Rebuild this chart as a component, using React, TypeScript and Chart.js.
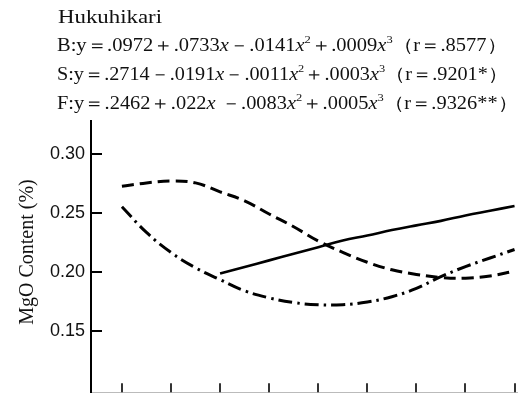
import React, { useEffect, useRef } from "react";
import { Chart, registerables } from "chart.js";

Chart.register(...registerables);

// ---- data ----
const xTicks = [1, 2, 3, 4, 5, 6, 7, 8, 9];
const yTicks = [0.15, 0.2, 0.25, 0.3];

const sX = [1, 1.5, 2, 2.5, 3, 3.5, 4, 4.5, 5, 5.5, 6, 6.5, 7, 7.5, 8, 8.5, 9];
const sValues = [0.2727, 0.2755, 0.2771, 0.2755, 0.2679, 0.2603, 0.2491, 0.2383, 0.2262, 0.2166, 0.2082, 0.2018, 0.1979, 0.1953, 0.1947, 0.1966, 0.2006];

const bX = [3, 3.5, 4, 4.5, 5, 5.5, 6, 6.5, 7, 7.5, 8, 8.5, 9];
const bValues = [0.1987, 0.2042, 0.2098, 0.2154, 0.221, 0.2267, 0.2309, 0.2355, 0.2395, 0.2433, 0.2479, 0.2519, 0.2559];

const fX = [1, 1.5, 2, 2.5, 3, 3.5, 4, 4.5, 5, 5.5, 6, 6.5, 7, 7.5, 8, 8.5, 9];
const fValues = [0.2553, 0.2335, 0.2165, 0.2035, 0.1935, 0.184, 0.178, 0.174, 0.1722, 0.1722, 0.1745, 0.179, 0.186, 0.196, 0.2045, 0.2118, 0.219];

const titleText = "Hukuhikari";
const equationLines = [
  "B:y＝.0972＋.0733x－.0141x²＋.0009x³（r＝.8577）",
  "S:y＝.2714－.0191x－.0011x²＋.0003x³（r＝.9201*）",
  "F:y＝.2462＋.022x －.0083x²＋.0005x³（r＝.9326**）",
];
const yAxisLabel = "MgO Content (%)";

const SERIF = '"Liberation Serif", "DejaVu Serif", serif';

type Seg = { t: string; kind: "n" | "i" | "s"; w?: number };

function parseRich(str: string): Seg[] {
  const segs: Seg[] = [];
  for (const ch of Array.from(str)) {
    let kind: Seg["kind"] = "n";
    let t = ch;
    if (ch === "x") kind = "i";
    else if (ch === "²") { kind = "s"; t = "2"; }
    else if (ch === "³") { kind = "s"; t = "3"; }
    const last = segs[segs.length - 1];
    if (last && last.kind === kind) last.t += t;
    else segs.push({ t, kind });
  }
  return segs;
}

function drawRich(ctx: CanvasRenderingContext2D, str: string, x: number, y: number, size: number, targetW?: number) {
  const segs = parseRich(str);
  const fontFor = (k: Seg["kind"]) =>
    k === "i" ? `italic ${size}px ${SERIF}` : k === "s" ? `${Math.round(size * 0.62)}px ${SERIF}` : `${size}px ${SERIF}`;
  let total = 0;
  segs.forEach((s) => {
    ctx.font = fontFor(s.kind);
    s.w = ctx.measureText(s.t).width;
    total += s.w;
  });
  const k = targetW ? targetW / total : 1;
  ctx.save();
  ctx.translate(x, y);
  ctx.scale(k, 1);
  let cx = 0;
  segs.forEach((s) => {
    ctx.font = fontFor(s.kind);
    const yy = s.kind === "s" ? -size * 0.42 : 0;
    ctx.fillText(s.t, cx, yy);
    cx += s.w || 0;
  });
  ctx.restore();
}

const decorPlugin = {
  id: "decor",
  afterDraw(chart: any) {
    const ctx: CanvasRenderingContext2D = chart.ctx;
    const { left, bottom } = chart.chartArea;
    const xs = chart.scales.x;
    const ys = chart.scales.y;
    ctx.save();
    ctx.strokeStyle = "#000";
    // inward y ticks
    ctx.lineWidth = 2;
    yTicks.forEach((v) => {
      const py = Math.round(ys.getPixelForValue(v));
      ctx.beginPath();
      ctx.moveTo(left, py);
      ctx.lineTo(left + 11, py);
      ctx.stroke();
    });
    // inward x ticks
    ctx.lineWidth = 1.6;
    xTicks.forEach((v) => {
      const px = Math.round(xs.getPixelForValue(v));
      ctx.beginPath();
      ctx.moveTo(px, bottom);
      ctx.lineTo(px, bottom - 9);
      ctx.stroke();
    });
    // texts
    ctx.fillStyle = "#111";
    ctx.textBaseline = "alphabetic";
    ctx.textAlign = "left";
    drawRich(ctx, titleText, 58, 23, 19, 104);
    const baselines = [51, 80, 109];
    const widths = [450, 451, 461];
    equationLines.forEach((ln, i) => drawRich(ctx, ln, 57, baselines[i], 18, widths[i]));
    // y label
    ctx.save();
    ctx.translate(33, 252);
    ctx.rotate(-Math.PI / 2);
    ctx.textAlign = "center";
    ctx.textBaseline = "alphabetic";
    ctx.font = `20px ${SERIF}`;
    ctx.fillText(yAxisLabel, 0, 0);
    ctx.restore();
    ctx.restore();
  },
};

export default function App() {
  const ref = useRef<HTMLCanvasElement | null>(null);
  useEffect(() => {
    document.body.style.margin = "0";
    if (!ref.current) return;
    const pts = (xs: number[], ys: number[]) => xs.map((x, i) => ({ x, y: ys[i] }));
    const chart = new Chart(ref.current, {
      type: "line",
      data: {
        datasets: [
          {
            label: "S",
            data: pts(sX, sValues),
            borderColor: "#000",
            borderWidth: 3,
            borderDash: [12, 6],
            pointRadius: 0,
            tension: 0.4,
            fill: false,
          },
          {
            label: "B",
            data: pts(bX, bValues),
            borderColor: "#000",
            borderWidth: 2.6,
            pointRadius: 0,
            tension: 0.4,
            fill: false,
          },
          {
            label: "F",
            data: pts(fX, fValues),
            borderColor: "#000",
            borderWidth: 3,
            borderDash: [14, 5, 2.5, 5],
            pointRadius: 0,
            tension: 0.4,
            fill: false,
          },
        ],
      },
      options: {
        responsive: false,
        animation: false,
        layout: { padding: { left: 0, top: 121, right: 8, bottom: 1 } },
        plugins: { legend: { display: false }, tooltip: { enabled: false }, title: { display: false } },
        scales: {
          x: {
            type: "linear",
            min: 0.37,
            max: 9.05,
            grid: { display: false, drawTicks: false },
            border: { display: true, color: "#bbb", width: 1 },
            ticks: { display: false },
            afterBuildTicks: (axis: any) => {
              axis.ticks = xTicks.map((v) => ({ value: v }));
            },
            afterFit: (s: any) => {
              s.height = 0;
            },
          },
          y: {
            type: "linear",
            min: 0.098,
            max: 0.328,
            grid: { display: false, drawTicks: false },
            border: { display: true, color: "#000", width: 2 },
            afterBuildTicks: (axis: any) => {
              axis.ticks = yTicks.map((v) => ({ value: v }));
            },
            ticks: {
              color: "#111",
              padding: 6,
              font: { family: '"Liberation Sans Narrow", "Liberation Sans", sans-serif', size: 18 },
              callback: (v: any) => Number(v).toFixed(2),
            },
            afterFit: (s: any) => {
              s.width = 91;
            },
          },
        },
      },
      plugins: [decorPlugin],
    });
    return () => chart.destroy();
  }, []);
  return (
    <div style={{ position: "fixed", left: 0, top: 0, width: 525, height: 409, background: "#fff" }}>
      <canvas ref={ref} width={525} height={409} />
    </div>
  );
}
